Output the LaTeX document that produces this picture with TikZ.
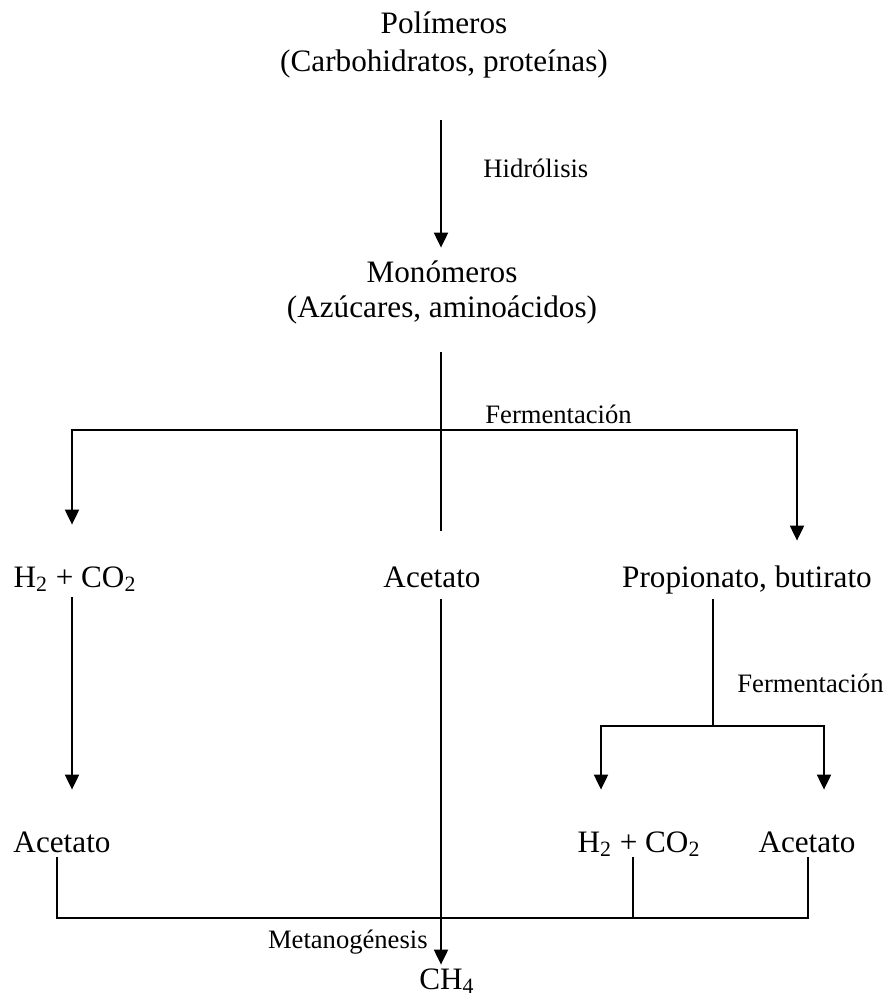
\documentclass[tikz,border=0pt]{standalone}
\usepackage{fontspec}
\setmainfont{Liberation Serif}
\usepackage{tikz}
\usetikzlibrary{arrows.meta}

\begin{document}
\begin{tikzpicture}[
        x=0.5pt, y=-0.5pt,
        every node/.style={inner sep=0pt},
        big/.style={font=\fontsize{15.6}{19}\selectfont, anchor=base, text height=11pt, text depth=3pt},
        small/.style={font=\fontsize{13.3}{16}\selectfont},
        flow/.style={line width=1pt, line cap=rect},
        flecha/.style={flow, -{Triangle[length=7.5pt, width=7pt]}}
    ]
    \useasboundingbox (0,0) rectangle (888,1001);

    % Sustancias
    \node[big] (p1) at (444,33) {Polímeros};
    \node[big] (p2) at (444,71) {(Carbohidratos, proteínas)};
    \node[big] (m1) at (442,282) {Monómeros};
    \node[big] (m2) at (442,317) {(Azúcares, aminoácidos)};
    \node[big] (h1) at (75,587) {H\textsubscript{2} + CO\textsubscript{2}};
    \node[big] (ac1) at (432,587) {Acetato};
    \node[big] (prop) at (747,587) {Propionato, butirato};
    \node[big] (ac2) at (62,852) {Acetato};
    \node[big] (h2) at (639,852) {H\textsubscript{2} + CO\textsubscript{2}};
    \node[big] (ac3) at (807,852) {Acetato};
    \node[big] (ch4) at (447,989) {CH\textsubscript{4}};

    % Procesos
    \node[small, anchor=base west] (hid) at (483,177) {Hidrólisis};
    \node[small, anchor=base west] (fer1) at (485,423) {Fermentación};
    \node[small, anchor=base west] (fer2) at (737,692) {Fermentación};
    \node[small, anchor=base east] (met) at (428,948) {Metanogénesis};

    \coordinate (fork) at (441,430);
    \coordinate (fL) at (72,430);
    \coordinate (fR) at (797,430);
    \coordinate (split) at (713,726);
    \coordinate (gL) at (601,726);
    \coordinate (gR) at (824,726);
    \coordinate (bL) at (57,918);
    \coordinate (bM) at (633,918);
    \coordinate (bR) at (808,918);

    \draw[flecha, shorten <=22pt, shorten >=6pt] (p2.south -| fork) -- (m1.north -| fork);
    \draw[flow, shorten <=15pt, shorten >=17.5pt] (m2.south -| fork) -- (ac1.north -| fork);
    \draw[flow] (fL) -- (fR);
    \draw[flecha, shorten >=20pt] (fL) -- (h1.north -| fL);
    \draw[flecha, shorten >=12pt] (fR) -- (prop.north -| fR);

    \draw[flecha, shorten <=2.5pt, shorten >=20pt] (h1.south -| fL) -- (ac2.north -| fL);
    \draw[flecha, shorten <=3.5pt, shorten >=1pt] (ac1.south -| fork) -- (ch4.north -| fork);
    \draw[flow, shorten <=3.5pt] (prop.south -| split) -- (split);
    \draw[flow] (gL) -- (gR);
    \draw[flecha, shorten >=20pt] (gL) -- (h2.north -| gL);
    \draw[flecha, shorten >=20pt] (gR) -- (ac3.north -| gR);

    \draw[flow] (ac2.south -| bL) -- (bL) -- (bR) -- (ac3.south -| bR);
    \draw[flow] (h2.south -| bM) -- (bM);

\end{tikzpicture}
\end{document}
